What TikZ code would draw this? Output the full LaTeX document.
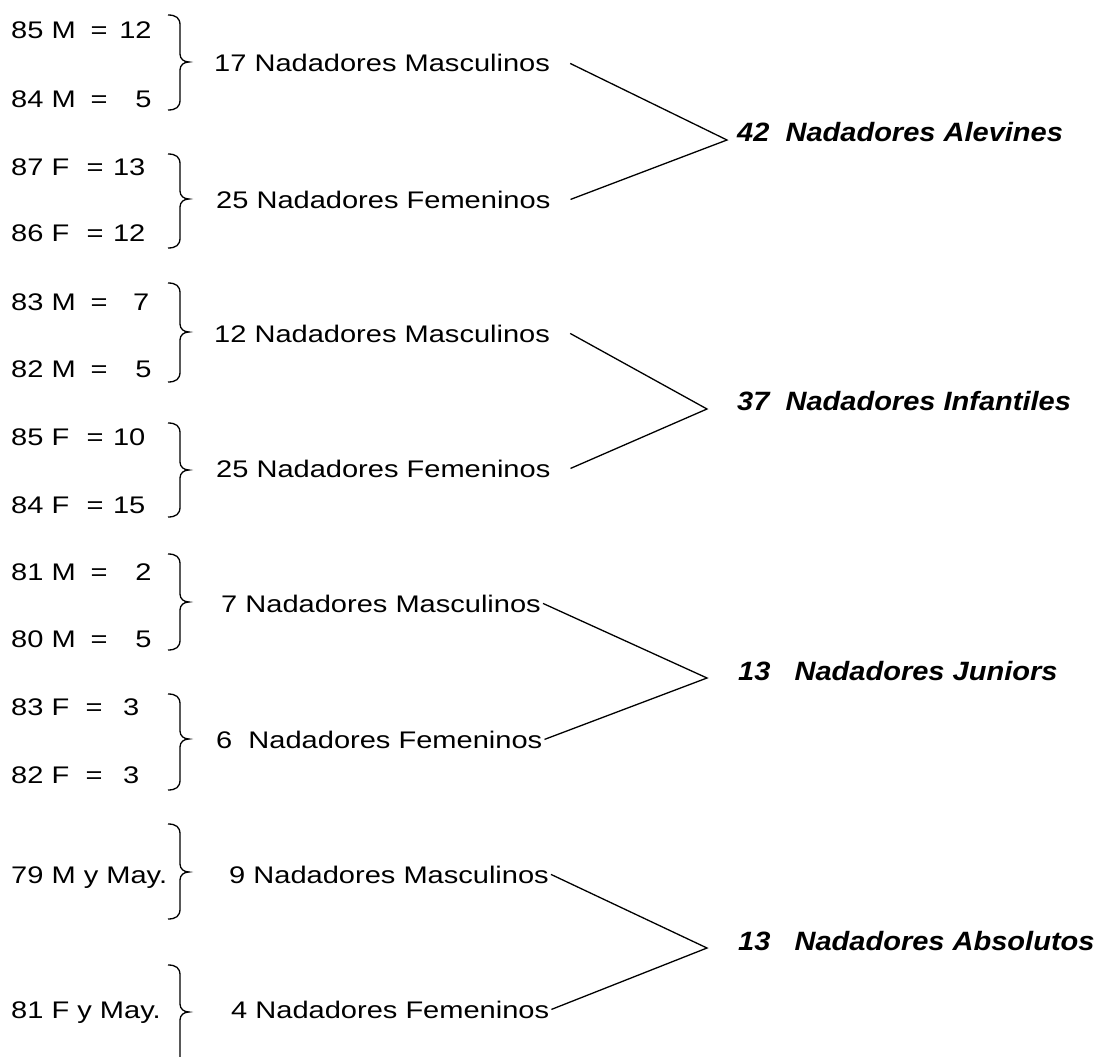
\documentclass[tikz,border=0pt]{standalone}
\usepackage{fontspec}
\setmainfont[FakeStretch=1.21]{Liberation Sans}
\newfontfamily\bifont[FakeStretch=1.095]{Liberation Sans}
\newcommand\eqlabel[4]{\makebox[#1][l]{#2}=\makebox[#3][r]{#4}}
\newcommand\mybrace[3]{%
  \draw[bracestyle] (168,#1) .. controls (176,#1) and (180,#1+3) .. (180,#1+10)
    -- (180,#2-8) .. controls (180,#2-3) and (184,#2) .. (189,#2)
    .. controls (184,#2) and (180,#2+3) .. (180,#2+8)
    -- (180,#3-10) .. controls (180,#3-3) and (176,#3) .. (168,#3);}
\begin{document}
\begin{tikzpicture}[x=1pt,y=-1pt,
  reg/.style={anchor=base west, inner sep=0pt, font=\fontsize{24}{29}\selectfont},
  tot/.style={anchor=base west, inner sep=0pt, font=\bifont\bfseries\itshape\fontsize{26.5}{32}\selectfont},
  conn/.style={line width=1.3pt, line join=miter},
  bracestyle/.style={line width=1.3pt}]
\useasboundingbox (0,0) rectangle (1098,1057);

% ---------- Alevines ----------
\node[reg] (l1) at (11,39) {\eqlabel{79.5pt}{85 M}{44pt}{12}};
\node[reg] (l2) at (11,107) {\eqlabel{79.5pt}{84 M}{44pt}{5}};
\node[reg] (l3) at (11,175) {\eqlabel{75.5pt}{87 F}{41.7pt}{13}};
\node[reg] (l4) at (11,241) {\eqlabel{75.5pt}{86 F}{41.7pt}{12}};
\mybrace{15}{62}{110}
\mybrace{154}{199}{248}
\node[reg] (m1) at (214,72) {17 Nadadores Masculinos};
\node[reg] (f1) at (216,208) {25 Nadadores Femeninos};
\coordinate (a1) at (727,140);
\node[tot] (t1) at (737,141) {42~~Nadadores Alevines};
\draw[conn] ([xshift=20pt]m1.east) -- (a1) -- ([xshift=20pt]f1.east);

% ---------- Infantiles ----------
\node[reg] (l5) at (11,310) {\eqlabel{79.5pt}{83 M}{41.7pt}{7}};
\node[reg] (l6) at (11,377) {\eqlabel{79.5pt}{82 M}{44pt}{5}};
\node[reg] (l7) at (11,445) {\eqlabel{75.5pt}{85 F}{41.7pt}{10}};
\node[reg] (l8) at (11,513) {\eqlabel{75.5pt}{84 F}{41.7pt}{15}};
\mybrace{283}{332}{382}
\mybrace{423}{470}{517}
\node[reg] (m2) at (214,342) {12 Nadadores Masculinos};
\node[reg] (f2) at (216,477) {25 Nadadores Femeninos};
\coordinate (a2) at (707,409);
\node[tot] (t2) at (737,410) {37~~Nadadores Infantiles};
\draw[conn] ([xshift=20pt]m2.east) -- (a2) -- ([xshift=20pt]f2.east);

% ---------- Juniors ----------
\node[reg] (l9) at (11,580) {\eqlabel{79.5pt}{81 M}{44pt}{2}};
\node[reg] (l10) at (11,647) {\eqlabel{79.5pt}{80 M}{44pt}{5}};
\node[reg] (l11) at (11,715) {\eqlabel{74.5pt}{83 F}{36.7pt}{3}};
\node[reg] (l12) at (11,783) {\eqlabel{74.5pt}{82 F}{36.7pt}{3}};
\mybrace{554}{602}{650}
\mybrace{694}{739}{790}
\node[reg] (m3) at (221,612) {7 Nadadores Masculinos};
\node[reg] (f3) at (216,748) {6~~Nadadores Femeninos};
\coordinate (a3) at (707,678);
\node[tot] (t3) at (738,680) {13~~~Nadadores Juniors};
\draw[conn] ([xshift=2pt]m3.east) -- (a3) -- ([xshift=2pt]f3.east);

% ---------- Absolutos ----------
\node[reg] (l13) at (11,883) {79 M y May.};
\node[reg] (l14) at (11,1018) {81 F y May.};
\mybrace{824}{872}{919}
\draw[bracestyle] (168,965) .. controls (176,965) and (180,968) .. (180,975)
    -- (180,1004) .. controls (180,1009) and (184,1012) .. (189,1012)
    .. controls (184,1012) and (180,1015) .. (180,1020) -- (180,1057);
\node[reg] (m4) at (229,883) {9 Nadadores Masculinos};
\node[reg] (f4) at (231,1018) {4 Nadadores Femeninos};
\coordinate (a4) at (707,948);
\node[tot] (t4) at (738,950) {13~~~Nadadores Absolutos};
\draw[conn] ([xshift=2pt]m4.east) -- (a4) -- ([xshift=2pt]f4.east);
\end{tikzpicture}
\end{document}
